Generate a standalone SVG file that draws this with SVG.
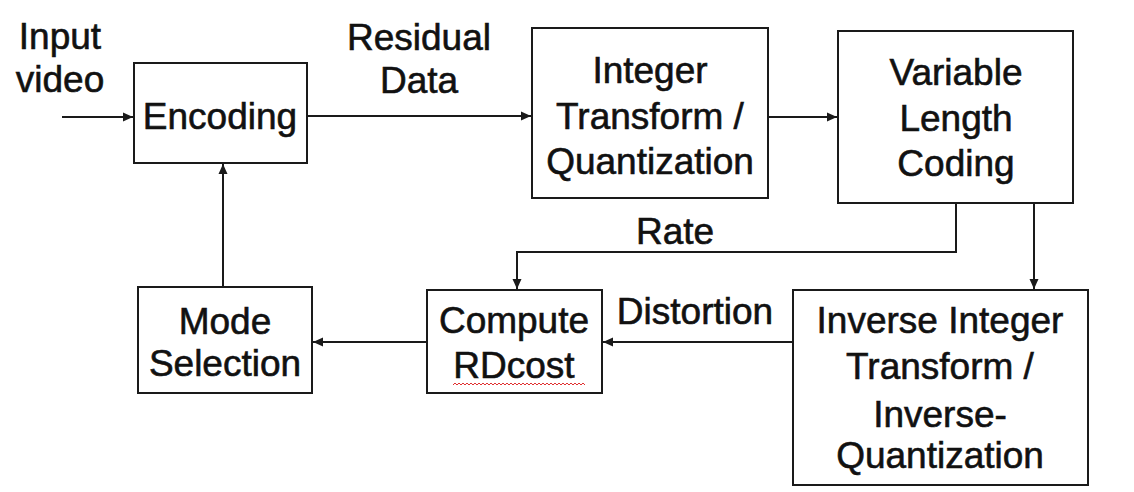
<svg xmlns="http://www.w3.org/2000/svg" width="1134" height="492" viewBox="0 0 1134 492">
<style>
.box{fill:#fff;stroke:#1a1a1a;stroke-width:2}
.t{font-family:"Liberation Sans",Arial,sans-serif;font-size:37px;fill:#111;stroke:#111;stroke-width:0.6;text-anchor:middle}
.c{fill:none;stroke:#1a1a1a;stroke-width:2}
</style>
<defs>
<marker id="ah" markerUnits="userSpaceOnUse" markerWidth="10" markerHeight="10" refX="10" refY="5" orient="auto">
<path d="M0,0.5 L10,5 L0,9.5 z" fill="#1a1a1a"/>
</marker>
</defs>
<rect width="1134" height="492" fill="#fff"/>
<g id="connectors">
<path class="c" d="M62,117 H133" marker-end="url(#ah)"/>
<path class="c" d="M307,116 H531" marker-end="url(#ah)"/>
<path class="c" d="M768,117 H837" marker-end="url(#ah)"/>
<path class="c" d="M956,203 V252 H517 V289" marker-end="url(#ah)"/>
<path class="c" d="M1034,203 V289" marker-end="url(#ah)"/>
<path class="c" d="M793,342 H603" marker-end="url(#ah)"/>
<path class="c" d="M427,342 H313" marker-end="url(#ah)"/>
<path class="c" d="M223,287 V164" marker-end="url(#ah)"/>
</g>
<g id="label-input">
<text class="t" x="60" y="49">Input</text>
<text class="t" x="60" y="92">video</text>
</g>
<g id="label-residual">
<text class="t" x="419" y="50">Residual</text>
<text class="t" x="419" y="93">Data</text>
</g>
<g id="label-rate">
<text class="t" x="675" y="244">Rate</text>
</g>
<g id="label-distortion">
<text class="t" x="695" y="324">Distortion</text>
</g>
<g id="encoding">
<rect class="box" x="134" y="63" width="173" height="100"/>
<text class="t" x="220" y="129">Encoding</text>
</g>
<g id="integer-transform">
<rect class="box" x="532" y="28" width="236" height="170"/>
<text class="t" x="650" y="83">Integer</text>
<text class="t" x="650" y="129">Transform /</text>
<text class="t" x="650" y="174">Quantization</text>
</g>
<g id="vlc">
<rect class="box" x="838" y="31" width="235" height="172"/>
<text class="t" x="956" y="85">Variable</text>
<text class="t" x="956" y="131">Length</text>
<text class="t" x="956" y="176">Coding</text>
</g>
<g id="inverse">
<rect class="box" x="793" y="290" width="295" height="195"/>
<text class="t" x="940" y="333">Inverse Integer</text>
<text class="t" x="940" y="379">Transform /</text>
<text class="t" x="940" y="427">Inverse-</text>
<text class="t" x="940" y="468">Quantization</text>
</g>
<g id="compute">
<rect class="box" x="427" y="290" width="175" height="103"/>
<text class="t" x="514" y="333">Compute</text>
<text class="t" x="514" y="378">RDcost</text>
<path d="M453,385 l2,-2 2,2 2,-2 2,2 2,-2 2,2 2,-2 2,2 2,-2 2,2 2,-2 2,2 2,-2 2,2 2,-2 2,2 2,-2 2,2 2,-2 2,2 2,-2 2,2 2,-2 2,2 2,-2 2,2 2,-2 2,2 2,-2 2,2 2,-2 2,2 2,-2 2,2 2,-2 2,2 2,-2 2,2 2,-2 2,2 2,-2 2,2 2,-2 2,2 2,-2 2,2 2,-2 2,2 2,-2 2,2 2,-2 2,2 2,-2 2,2 2,-2 2,2 2,-2 2,2 2,-2 2,2 2,-2 2,2 2,-2 2,2 2,-2 2,2" fill="none" stroke="#e03030" stroke-width="1"/>
</g>
<g id="mode-selection">
<rect class="box" x="138" y="287" width="174" height="106"/>
<text class="t" x="225" y="334">Mode</text>
<text class="t" x="225" y="376">Selection</text>
</g>
</svg>
